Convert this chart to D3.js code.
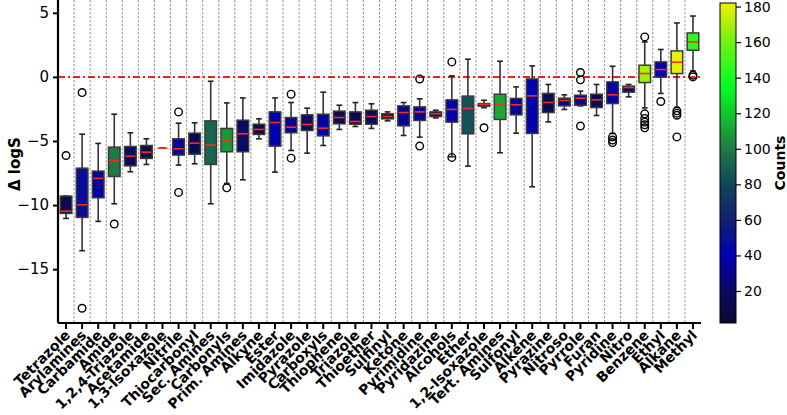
<!DOCTYPE html>
<html>
<head>
<meta charset="utf-8">
<script src="https://cdn.jsdelivr.net/npm/d3@7"></script>
<style>
  body { margin: 0; background: #fff; }
  text { font-family: "DejaVu Sans", sans-serif; }
</style>
</head>
<body>
<script>
// Functional groups, in plotted order
let categories = ["Tetrazole", "Arylamines", "Carbamide", "Amide", "1,2,4-Triazole", "Acetamide",
  "1,3-Isoxazole", "Nitrile", "Thiocarbonyl", "Sec. Amines", "Carbonyls", "Prim. Amines", "Alkyne",
  "Ester", "Imidazole", "Pyrazole", "Carboxyls", "Thiophene", "Triazole", "Thioether", "Sulfinyl",
  "Ketone", "Pyrimidine", "Pyridazine", "Alcohols", "Ether", "1,2-Isoxazole", "Tert. Amines",
  "Sulfonyl", "Alkene", "Pyrazine", "Nitroso", "Pyrrole", "Furan", "Pyridine", "Nitro", "Benzene",
  "Ethyl", "Alkane", "Methyl"];

// number of molecules per group (box colour)
let counts = [12, 48, 35, 100, 15, 10, 1, 32, 14, 92, 108, 20, 10, 38, 32, 20, 38, 12, 12, 16, 8,
  32, 32, 8, 42, 85, 10, 112, 36, 42, 16, 30, 30, 16, 36, 20, 168, 40, 180, 145];

// box statistics (delta logS)
let whiskLow = [-11.04, -13.56, -11.27, -9.9, -7.4, -6.83, -5.56, -6.88, -6.78, -9.9, -8.31, -8.03, -4.83,
  -7.43, -5.74, -5.95, -5.35, -4.1, -3.87, -4.02, -3.43, -4.57, -4.7, -3.2, -6.23, -6.96, -2.4, -5.92,
  -4.39, -8.57, -3.51, -2.54, -2.26, -3.01, -4.41, -1.56, -2.42, -1.29, -2.39, 0.47];
let q1 = [-10.65, -10.96, -9.43, -7.77, -6.94, -6.36, -5.56, -6.1, -6.03, -6.83, -5.84, -5.84, -4.49,
  -5.4, -4.36, -4.18, -4.6, -3.66, -3.69, -3.69, -3.27, -3.82, -3.4, -3.09, -3.53, -4.44, -2.28, -3.32,
  -2.96, -4.41, -2.78, -2.26, -2.21, -2.39, -2.08, -1.19, -0.44, -0.02, 0.26, 2.08];
let median = [-10.47, -9.98, -7.92, -6.52, -6.18, -5.87, -5.56, -5.61, -5.17, -5.32, -4.93, -4.44, -4.1,
  -3.56, -3.92, -3.71, -4.0, -3.17, -3.48, -3.09, -3.09, -2.78, -2.73, -2.88, -2.54, -2.46, -2.15, -2.18,
  -2.18, -1.48, -2.0, -1.84, -1.66, -1.79, -1.4, -0.83, 0.26, 0.57, 1.15, 2.73];
let q3 = [-9.3, -7.12, -7.35, -5.48, -5.43, -5.35, -5.56, -4.83, -4.39, -3.43, -4.02, -3.38, -3.69,
  -2.73, -3.17, -2.96, -2.91, -2.67, -2.73, -2.6, -2.88, -2.26, -2.34, -2.73, -1.79, -1.5, -2.08, -1.35,
  -1.68, -0.16, -1.29, -1.66, -1.43, -1.35, -0.39, -0.72, 0.91, 1.17, 2.03, 3.43];
let whiskHigh = [-9.3, -4.47, -5.19, -2.91, -4.36, -4.83, -5.56, -3.61, -3.58, -0.34, -2.03, -1.64, -3.27,
  -1.64, -2.0, -2.44, -1.19, -2.21, -2.0, -2.1, -2.73, -2.0, -1.71, -2.6, 0.08, 1.38, -1.82, 1.22,
  -0.78, 0.86, -0.59, -1.4, -1.11, -0.59, 0.83, -0.59, 2.73, 2.14, 4.21, 4.75];
let outliers = [[-6.13], [-1.22, -18.05], [], [-11.48], [], [], [], [-2.73, -9.01], [], [], [-8.65], [], [],
  [], [-1.35, -6.34], [], [], [], [], [], [], [], [-0.16, -5.4], [], [1.17, -6.28], [], [-3.97], [],
  [], [], [], [], [0.34, -0.23, -3.84], [], [-4.68, -4.93, -5.12], [], [3.12, -2.88, -3.24, -3.53, -3.74, -3.97],
  [-1.92], [-2.65, -2.83, -2.99, -4.68], [0.13, 0.0]];

let yTicks = [5, 0, -5, -10, -15];
let cbTicks = [20, 40, 60, 80, 100, 120, 140, 160, 180];

// colour map stops (count -> colour)
let cmapStops = [[2, "#0b0b2e"], [20, "#0a0a66"], [40, "#0000b4"], [60, "#12206e"], [80, "#11455a"],
  [100, "#1e7a45"], [120, "#10c82a"], [135, "#00ff22"], [160, "#70f214"], [182, "#f2f200"]];

let width = 787;
let height = 415;
let plot = { left: 58, right: 701, top: 0, bottom: 323 };

let svg = d3.select("body").append("svg")
  .attr("width", width)
  .attr("height", height);

let x = d3.scaleBand()
  .domain(categories)
  .range([plot.left, plot.right])
  .padding(0);

let y = d3.scaleLinear()
  .domain([-19.2, 6.0])
  .range([plot.bottom, plot.top]);

let cmap = d3.scaleLinear()
  .domain(cmapStops.map(d => d[0]))
  .range(cmapStops.map(d => d[1]))
  .interpolate(d3.interpolateRgb)
  .clamp(true);

// vertical separators between groups
svg.append("g")
  .selectAll("line")
  .data(categories.slice(1))
  .enter()
  .append("line")
  .attr("x1", d => x(d))
  .attr("x2", d => x(d))
  .attr("y1", plot.top)
  .attr("y2", plot.bottom)
  .style("stroke", "#7a7a7a")
  .style("stroke-width", 0.8)
  .style("stroke-dasharray", "2.5,1.5");

// zero reference line
svg.append("line")
  .attr("x1", plot.left)
  .attr("x2", plot.right)
  .attr("y1", y(0))
  .attr("y2", y(0))
  .style("stroke", "#ff1a1a")
  .style("stroke-width", 2)
  .style("stroke-dasharray", "7,3,2,3");

let bw = x.bandwidth() * 0.72;
let cap = bw * 0.5;

let boxes = svg.append("g")
  .selectAll("g")
  .data(categories.map((c, i) => ({
    name: c, count: counts[i], lo: whiskLow[i], q1: q1[i], med: median[i],
    q3: q3[i], hi: whiskHigh[i], out: outliers[i]
  })))
  .enter()
  .append("g")
  .attr("transform", d => `translate(${x(d.name) + x.bandwidth() / 2},0)`);

// whiskers
boxes.append("line")
  .attr("y1", d => y(d.q3)).attr("y2", d => y(d.hi))
  .style("stroke", "#333").style("stroke-width", 1.6);
boxes.append("line")
  .attr("y1", d => y(d.q1)).attr("y2", d => y(d.lo))
  .style("stroke", "#333").style("stroke-width", 1.6);
boxes.append("line")
  .attr("x1", -cap / 2).attr("x2", cap / 2)
  .attr("y1", d => y(d.hi)).attr("y2", d => y(d.hi))
  .style("stroke", "#222").style("stroke-width", 1.6);
boxes.append("line")
  .attr("x1", -cap / 2).attr("x2", cap / 2)
  .attr("y1", d => y(d.lo)).attr("y2", d => y(d.lo))
  .style("stroke", "#222").style("stroke-width", 1.6);

// boxes
boxes.append("rect")
  .attr("x", -bw / 2)
  .attr("width", bw)
  .attr("y", d => y(d.q3))
  .attr("height", d => y(d.q1) - y(d.q3))
  .style("fill", d => cmap(d.count))
  .style("stroke", d => d.count > 1 ? "#3a3a3a" : "none")
  .style("stroke-width", 1.5);

// medians
boxes.append("line")
  .attr("x1", -bw / 2 + 0.8).attr("x2", bw / 2 - 0.8)
  .attr("y1", d => y(d.med)).attr("y2", d => y(d.med))
  .style("stroke", "#ff2a1a").style("stroke-width", 1.6);

// fliers
boxes.selectAll("circle")
  .data(d => d.out)
  .enter()
  .append("circle")
  .attr("cx", 0)
  .attr("cy", d => y(d))
  .attr("r", 3.8)
  .style("fill", "none")
  .style("stroke", "#000")
  .style("stroke-width", 1.4);

// axes
let yAxis = svg.append("g")
  .attr("transform", `translate(${plot.left},0)`)
  .call(d3.axisLeft(y).tickValues(yTicks).tickSize(5).tickPadding(4).tickFormat(d => d < 0 ? "\u2212" + Math.abs(d) : d));
yAxis.select(".domain").attr("d", `M0,${plot.top}V${plot.bottom}`).style("stroke-width", 2.2);
yAxis.selectAll(".tick line").style("stroke-width", 2);
yAxis.selectAll("text").style("font-size", "15px").attr("fill", "#000");

let xAxis = svg.append("g")
  .attr("transform", `translate(0,${plot.bottom})`)
  .call(d3.axisBottom(x).tickSize(6).tickSizeOuter(0));
xAxis.select(".domain").attr("d", `M${plot.left},0H${plot.right}`).style("stroke-width", 2.2);
xAxis.selectAll(".tick line").style("stroke-width", 2);
xAxis.selectAll("text")
  .attr("y", 0)
  .attr("x", 0)
  .attr("dy", 0)
  .attr("transform", "translate(5,13) rotate(-45)")
  .style("text-anchor", "end")
  .style("font-size", "14px")
  .style("font-weight", "bold")
  .attr("fill", "#000");

svg.append("text")
  .attr("transform", `translate(20,${y(-6.8)}) rotate(-90)`)
  .style("text-anchor", "middle")
  .style("font-size", "15px")
  .style("font-weight", "bold")
  .text("\u0394 logS");

// colour bar
let cb = { x: 720, w: 16, top: 3, bottom: 323 };
let cbScale = d3.scaleLinear().domain([2, 182]).range([cb.bottom, cb.top]);

let grad = svg.append("defs").append("linearGradient")
  .attr("id", "cbgrad")
  .attr("x1", 0).attr("x2", 0).attr("y1", 1).attr("y2", 0);
grad.selectAll("stop")
  .data(cmapStops)
  .enter()
  .append("stop")
  .attr("offset", d => (d[0] - 2) / 180)
  .attr("stop-color", d => d[1]);

svg.append("rect")
  .attr("x", cb.x)
  .attr("y", cb.top)
  .attr("width", cb.w)
  .attr("height", cb.bottom - cb.top)
  .style("fill", "url(#cbgrad)")
  .style("stroke", "#000")
  .style("stroke-width", 1);

let cbAxis = svg.append("g")
  .attr("transform", `translate(${cb.x + cb.w},0)`)
  .call(d3.axisRight(cbScale).tickValues(cbTicks).tickSize(5).tickPadding(3));
cbAxis.select(".domain").remove();
cbAxis.selectAll(".tick line").style("stroke-width", 1.2);
cbAxis.selectAll("text").style("font-size", "14px").attr("fill", "#000");

svg.append("text")
  .attr("transform", `translate(785,${cbScale(92)}) rotate(-90)`)
  .style("text-anchor", "middle")
  .style("font-size", "14px")
  .style("font-weight", "bold")
  .text("Counts");
</script>
</body>
</html>
